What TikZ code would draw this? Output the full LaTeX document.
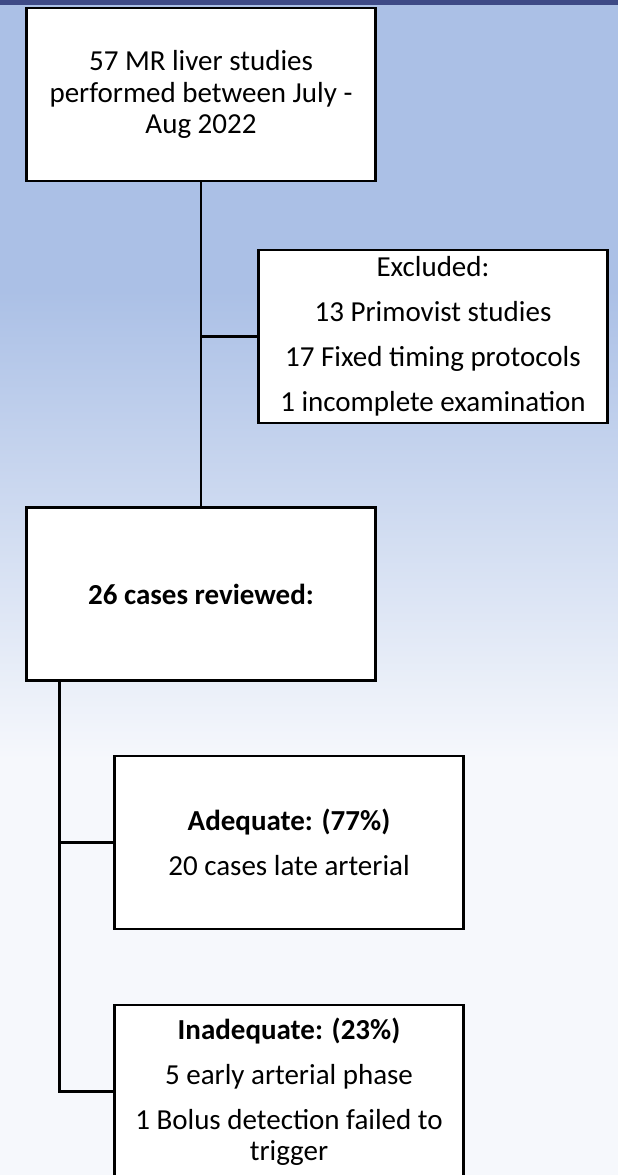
\documentclass[tikz,border=0pt]{standalone}
\usepackage{fontspec}
\setmainfont{Carlito}
\definecolor{barblue}{RGB}{62,74,134}
\definecolor{bgblue}{RGB}{171,192,230}
\definecolor{bgwhite}{RGB}{246,248,252}
\tikzset{
  flowbox/.style={draw=black, line width=2.6pt, fill=white, minimum width=349pt, minimum height=173pt,
    align=center, font=\fontsize{29}{31.5}\selectfont},
  link/.style={line width=2.6pt}
}

\begin{document}
\begin{tikzpicture}[x=1pt,y=-1pt]
  \clip (0,0) rectangle (618,1175);
  \fill[bgblue] (0,0) rectangle (618,290);
  \shade[top color=bgblue, bottom color=bgwhite] (0,290) rectangle (618,760);
  \fill[bgwhite] (0,760) rectangle (618,1175);
  \fill[barblue] (0,0) rectangle (618,4.5);

  \node[flowbox] (studies) at (201,94.5) {57 MR liver studies\\performed between July -\\Aug 2022};
  \node[flowbox] (excluded) at (433,336.5) {Excluded:\\[13.5pt]13 Primovist studies\\[13.5pt]17 Fixed timing protocols\\[13.5pt]1 incomplete examination};
  \node[flowbox] (reviewed) at (201,594) {\textbf{26 cases reviewed:}};
  \node[flowbox] (adequate) at (289,842.5) {\textbf{Adequate: (77\%)}\\[13.5pt]20 cases late arterial};
  \node[flowbox] (inadequate) at (289,1091.5) {\textbf{Inadequate: (23\%)}\\[13.5pt]5 early arterial phase\\[13.5pt]1 Bolus detection failed to\\trigger};

  \coordinate (split) at ([xshift=34pt]reviewed.south west);
  \draw[link] (studies) -- (reviewed);
  \draw[link] (excluded.west) -- (excluded.west -| studies.south);
  \draw[link] (split) |- (adequate.west);
  \draw[link] (split) |- (inadequate.west);
\end{tikzpicture}
\end{document}
